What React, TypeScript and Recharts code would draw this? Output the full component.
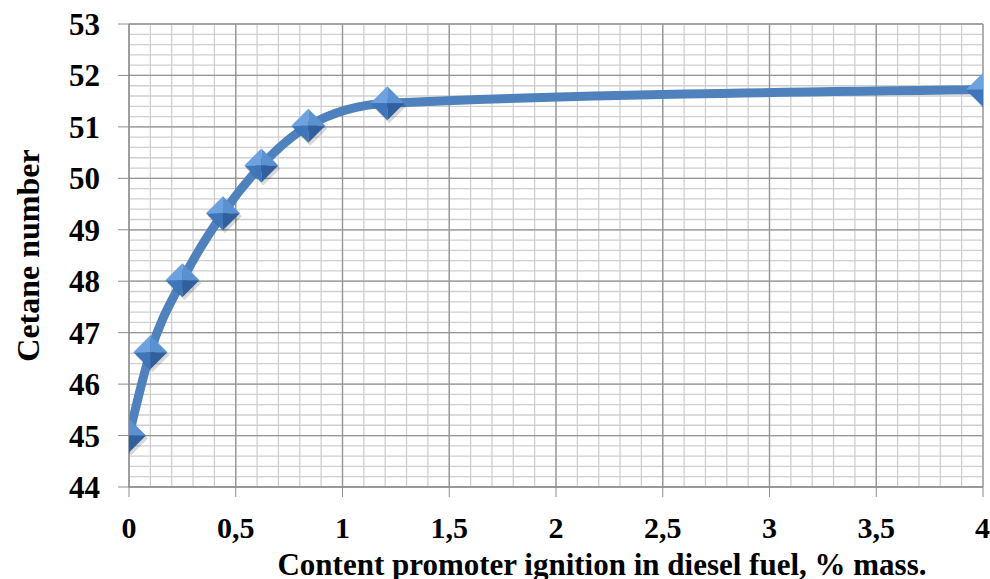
import React from "react";
import {
  LineChart,
  Line,
  XAxis,
  YAxis,
  ReferenceLine,
} from "recharts";

// promoter content, % mass
const content = [0, 0.1, 0.25, 0.44, 0.62, 0.84, 1.21, 4];
// cetane number
const cetane = [45, 46.62, 48.02, 49.32, 50.25, 51.02, 51.46, 51.72];

const xTicks = [0, 0.5, 1, 1.5, 2, 2.5, 3, 3.5, 4];
const yTicks = [44, 45, 46, 47, 48, 49, 50, 51, 52, 53];

// minor grid steps (0.1 on x, 0.2 on y)
const xMinor = Array.from({ length: 41 }, (_, i) => +(i * 0.1).toFixed(1));
const yMinor = Array.from({ length: 46 }, (_, i) => +(44 + i * 0.2).toFixed(1));

const data = content.map((x, i) => ({ x, y: cetane[i] }));

const FONT = "'Liberation Serif', 'Times New Roman', serif";
const BLUE = "#4f81bd";

function Diamond(props: any) {
  const { cx, cy } = props;
  if (cx == null || cy == null) return null;
  const r = 17;
  return (
    <g>
      <polygon
        points={`${cx + 2},${cy - r + 3} ${cx + r + 2},${cy + 3} ${cx + 2},${cy + r + 3} ${cx - r + 2},${cy + 3}`}
        fill="rgba(0,0,0,0.15)"
      />
      <polygon points={`${cx},${cy} ${cx},${cy - r} ${cx - r},${cy}`} fill="#6ea2df" />
      <polygon points={`${cx},${cy} ${cx},${cy - r} ${cx + r},${cy}`} fill="#5a91d3" />
      <polygon points={`${cx},${cy} ${cx - r},${cy} ${cx},${cy + r}`} fill="#3f76ba" />
      <polygon points={`${cx},${cy} ${cx + r},${cy} ${cx},${cy + r}`} fill="#30609e" />
    </g>
  );
}

const fmt = (v: number) => String(v).replace(".", ",");

const tickStyle = { fontFamily: FONT, fontSize: 31, fontWeight: 700, fill: "#000" };
const xTickStyle = { ...tickStyle, fontSize: 30 };
const labelStyle = { fontFamily: FONT, fontSize: 32, fontWeight: 700, fill: "#000" };

export default function App() {
  return (
    <div style={{ position: "absolute", left: 0, top: 0, width: 990, height: 579, background: "#fff", overflow: "hidden" }}>
      <LineChart
        width={990}
        height={579}
        data={data}
        margin={{ top: 24, right: 7, bottom: 0, left: 0 }}
      >
        {xMinor.map((v) => (
          <ReferenceLine key={`xm${v}`} x={v} stroke="#cfcfcf" strokeWidth={1.3} />
        ))}
        {yMinor.map((v) => (
          <ReferenceLine key={`ym${v}`} y={v} stroke="#cfcfcf" strokeWidth={1.3} />
        ))}
        {xTicks.map((v) => (
          <ReferenceLine key={`xM${v}`} x={v} stroke="#959595" strokeWidth={1.3} />
        ))}
        {yTicks.map((v) => (
          <ReferenceLine key={`yM${v}`} y={v} stroke="#959595" strokeWidth={1.3} />
        ))}
        <XAxis
          dataKey="x"
          type="number"
          domain={[0, 4]}
          ticks={xTicks}
          tickFormatter={fmt}
          allowDataOverflow
          stroke="#8c8c8c"
          height={92}
          tickSize={10}
          tickMargin={20}
          tick={xTickStyle}
          label={{
            value: "Content promoter ignition in diesel fuel, % mass.",
            position: "insideBottom",
            offset: 4,
            dx: 46,
            style: { ...labelStyle, fontSize: 31 },
          }}
        />
        <YAxis
          type="number"
          domain={[44, 53]}
          ticks={yTicks}
          allowDataOverflow
          stroke="#8c8c8c"
          width={129}
          tickSize={11}
          tickMargin={18}
          tick={tickStyle}
          label={{
            value: "Cetane number",
            angle: -90,
            position: "insideLeft",
            offset: 28,
            style: { ...labelStyle, textAnchor: "middle" },
          }}
        />
        <Line
          type="monotone"
          dataKey="y"
          stroke={BLUE}
          strokeWidth={9}
          dot={<Diamond />}
          activeDot={false}
          isAnimationActive={false}
        />
      </LineChart>
    </div>
  );
}
